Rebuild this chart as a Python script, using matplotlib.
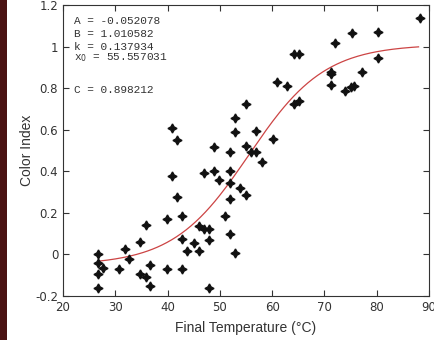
import numpy as np
import matplotlib
matplotlib.use("Agg")
import matplotlib.pyplot as plt
from matplotlib.patches import Rectangle
from matplotlib.ticker import FormatStrFormatter

# measured points (final temperature, colour index)
temp = [26.7, 26.7, 27.6, 26.7, 26.7, 31.8, 32.7, 30.7, 34.8, 35.8,
        36.7, 34.8, 35.8, 36.7, 39.9, 39.9, 40.8, 41.8, 42.8, 42.8,
        42.8, 43.8, 40.8, 41.8, 45.0, 46.0, 46.0, 47.0, 48.0, 48.0,
        48.0, 46.9, 48.8, 49.9, 50.9, 51.9, 51.9, 51.9, 51.9, 52.9,
        53.9, 55.0, 51.9, 48.8, 55.0, 56.0, 57.0, 58.0, 52.9, 52.9,
        57.0, 60.1, 55.0, 61.0, 62.9, 64.1, 65.1, 64.1, 65.1, 71.2,
        71.2, 71.2, 72.0, 74.0, 75.0, 75.6, 75.2, 77.1, 80.3, 80.3,
        88.2]
cindex = [0.0, -0.04, -0.064, -0.096, -0.16, 0.025, -0.024, -0.07, 0.062, 0.143,
          -0.053, -0.095, -0.11, -0.152, 0.172, -0.07, 0.377, 0.275, 0.185, 0.072,
          -0.072, 0.016, 0.61, 0.55, 0.053, 0.016, 0.135, 0.124, 0.12, 0.07,
          -0.163, 0.394, 0.40, 0.36, 0.185, 0.40, 0.345, 0.268, 0.10, 0.008,
          0.32, 0.288, 0.492, 0.515, 0.52, 0.493, 0.493, 0.445, 0.654, 0.588,
          0.592, 0.555, 0.725, 0.83, 0.81, 0.726, 0.74, 0.964, 0.964, 0.879,
          0.866, 0.816, 1.015, 0.785, 0.806, 0.812, 1.063, 0.876, 1.07, 0.945,
          1.137]

# fitted parameters shown on the chart
A = -0.052078
B = 1.010582
k = 0.137934
x0 = 55.557031
C = 0.898212

fig = plt.figure(figsize=(4.35, 3.40), dpi=100)
fig.patches.append(Rectangle((0, 0), 7 / 435, 1, transform=fig.transFigure,
                             facecolor="#4a1212", edgecolor="none"))
ax = fig.add_axes([63 / 435, 1 - 296 / 340, 366 / 435, 291 / 340])

xf = np.linspace(27, 88, 200)
yf = A + (B - A) / (1 + np.exp(-k * (xf - x0)))
ax.plot(xf, yf, color="#cc4444", lw=0.9)
ax.plot(temp, cindex, linestyle="none", marker=(4, 1, 0), markersize=6.5,
        color="#111111")

ax.set_xlim(20, 90)
ax.set_ylim(-0.2, 1.2)
ax.set_xticks(range(20, 91, 10))
ax.set_yticks(np.arange(-0.2, 1.21, 0.2))
ax.yaxis.set_major_formatter(FormatStrFormatter("%g"))
ax.tick_params(direction="in", length=4, top=True, right=True,
               labelsize=8.5, labelcolor="#333333", color="#333333")
for s in ax.spines.values():
    s.set_color("#333333")

ax.set_xlabel("Final Temperature (\u00b0C)", family="Liberation Sans",
              fontsize=10, color="#333333", labelpad=5)
ax.set_ylabel("Color Index", family="Liberation Sans", fontsize=10,
              color="#333333", labelpad=1)

mono = dict(family="Liberation Mono", fontsize=8, color="#333333",
            transform=ax.transAxes, va="center", ha="left")
ax.text(0.03, 1 - 16 / 291, "A = %.6f" % A, **mono)
ax.text(0.03, 1 - 29 / 291, "B = %.6f" % B, **mono)
ax.text(0.03, 1 - 42 / 291, "k = %.6f" % k, **mono)
ax.text(0.03, 1 - 53 / 291, "x$_0$ = %.6f" % x0, **mono)
ax.text(0.03, 1 - 85 / 291, "C = %.6f" % C, **mono)

fig.savefig("out.png", dpi=100)
